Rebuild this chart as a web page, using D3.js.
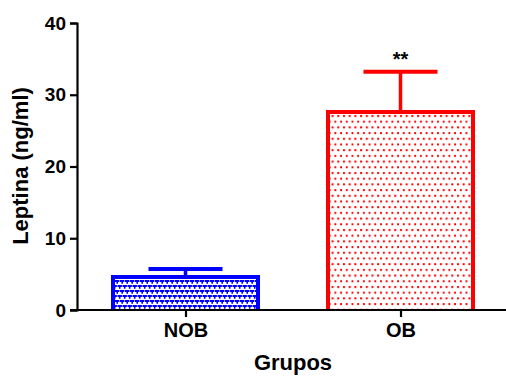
<!DOCTYPE html>
<html>
<head>
<meta charset="utf-8">
<script src="https://cdn.jsdelivr.net/npm/d3@7"></script>
<style>
  html, body { margin: 0; padding: 0; background: #fff; }
  svg { display: block; font-family: "Liberation Sans", Arial, sans-serif; font-weight: bold; }
</style>
</head>
<body>
<svg id="chart" width="506" height="376"></svg>
<script>
// Leptin concentration by group (mean and upper error)
const groups = ["NOB", "OB"];
const means = [4.6, 27.6];
const errors = [1.1, 5.6];
const significance = ["", "**"];
const yTicks = [0, 10, 20, 30, 40];
const colors = ["#0000ff", "#ff0000"];

const svg = d3.select("#chart");
const defs = svg.append("defs");

// Blue bar fill: staggered small "v" marks
const vMark = (dx, dy) => `M${dx},${dy} h4.4 v2 h-1.4 v1.8 h-1.6 v-1.8 h-1.4 Z`;
const pBlue = defs.append("pattern")
  .attr("id", "fillBlue").attr("patternUnits", "userSpaceOnUse")
  .attr("width", 5).attr("height", 10);
pBlue.append("rect").attr("width", 5).attr("height", 10).attr("fill", "#fff");
[[0, 0], [2.5, 5], [-2.5, 5]].forEach(([dx, dy]) => {
  pBlue.append("path").attr("d", vMark(dx, dy)).attr("fill", colors[0]);
});

// Red bar fill: staggered square dots
const pRed = defs.append("pattern")
  .attr("id", "fillRed").attr("patternUnits", "userSpaceOnUse")
  .attr("width", 5.7).attr("height", 11.4);
pRed.append("rect").attr("width", 5.7).attr("height", 11.4).attr("fill", "#fff");
pRed.append("rect").attr("x", 1).attr("y", 1).attr("width", 2).attr("height", 2).attr("fill", colors[1]);
pRed.append("rect").attr("x", 3.85).attr("y", 6.7).attr("width", 2).attr("height", 2).attr("fill", colors[1]);
const fills = ["url(#fillBlue)", "url(#fillRed)"];

const x = d3.scalePoint().domain(groups).range([78, 508]).padding(0.5);
const y = d3.scaleLinear().domain([0, 40]).range([310, 23]);
const barW = 145;

const data = groups.map((g, i) => ({ g, m: means[i], e: errors[i], s: significance[i], i }));

// Error bars (drawn first so the bar outline covers the stem base)
const eb = svg.append("g");
data.forEach(d => {
  const cx = x(d.g);
  eb.append("line")
    .attr("x1", cx).attr("x2", cx)
    .attr("y1", y(d.m)).attr("y2", y(d.m + d.e))
    .attr("stroke", colors[d.i]).attr("stroke-width", 3.5);
  eb.append("line")
    .attr("x1", cx - 37).attr("x2", cx + 37)
    .attr("y1", y(d.m + d.e)).attr("y2", y(d.m + d.e))
    .attr("stroke", colors[d.i]).attr("stroke-width", 4);
});

// Bars
svg.append("g").selectAll("path")
  .data(data).join("path")
  .attr("d", d => {
    const x0 = x(d.g) - barW / 2, x1 = x(d.g) + barW / 2;
    return `M${x0},${y(0)} V${y(d.m)} H${x1} V${y(0)}`;
  })
  .attr("fill", d => fills[d.i])
  .attr("stroke", d => colors[d.i])
  .attr("stroke-width", 4);

// Significance marks
svg.append("g").selectAll("text")
  .data(data.filter(d => d.s)).join("text")
  .attr("x", d => x(d.g))
  .attr("y", d => y(d.m + d.e) - 6)
  .attr("text-anchor", "middle")
  .attr("font-size", 20)
  .text(d => d.s);

// Y axis
const yAxis = svg.append("g").attr("transform", "translate(77,0)")
  .call(d3.axisLeft(y).tickValues(yTicks).tickSize(7).tickPadding(4));
yAxis.select(".domain").attr("stroke", "#000").attr("stroke-width", 2.2);
yAxis.selectAll(".tick line").attr("stroke", "#000").attr("stroke-width", 2.2);
yAxis.selectAll(".tick text")
  .attr("font-family", "'Liberation Sans', Arial, sans-serif")
  .attr("font-weight", "bold").attr("font-size", 19).attr("fill", "#000");

// X axis
const xAxis = svg.append("g").attr("transform", `translate(0,${y(0)})`)
  .call(d3.axisBottom(x).tickSize(7).tickSizeOuter(0).tickPadding(6));
xAxis.select(".domain").attr("d", `M70,0H506`).attr("stroke", "#000").attr("stroke-width", 2.2);
xAxis.selectAll(".tick line").attr("stroke", "#000").attr("stroke-width", 2.2);
xAxis.selectAll(".tick text")
  .attr("font-family", "'Liberation Sans', Arial, sans-serif")
  .attr("font-weight", "bold").attr("font-size", 20).attr("fill", "#000");

// Axis titles
svg.append("text")
  .attr("x", 293).attr("y", 370)
  .attr("text-anchor", "middle").attr("font-size", 22)
  .text("Grupos");
svg.append("text")
  .attr("transform", "translate(28,166) rotate(-90)")
  .attr("text-anchor", "middle").attr("font-size", 22)
  .text("Leptina (ng/ml)");
</script>
</body>
</html>
